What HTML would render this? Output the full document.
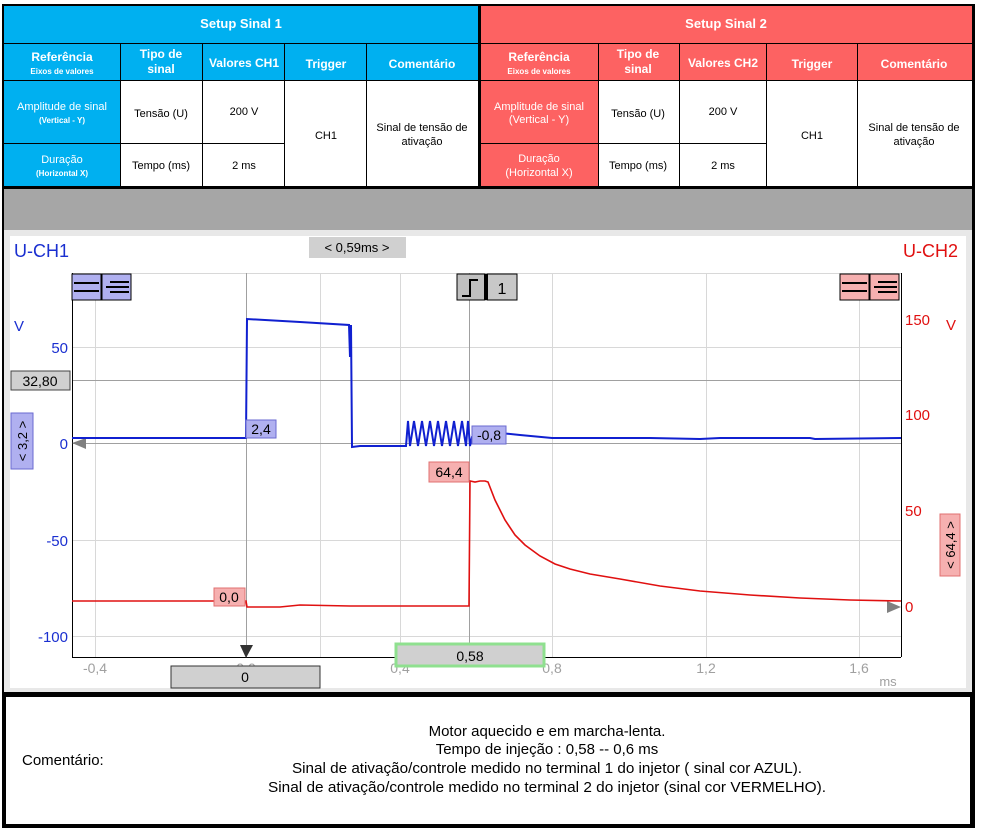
<!DOCTYPE html>
<html><head><meta charset="utf-8"><style>
html,body{margin:0;padding:0;background:#fff;}
svg{display:block;font-family:"Liberation Sans",sans-serif;}
</style></head><body>
<svg width="982" height="831" viewBox="0 0 982 831" xmlns="http://www.w3.org/2000/svg">
<rect x="0" y="0" width="982" height="831" fill="#fff"/>
<rect x="2" y="4" width="973" height="824" fill="#000"/>
<rect x="4" y="6" width="474" height="180" fill="#fff"/>
<rect x="4" y="6" width="474" height="37" fill="#00b0f0"/>
<rect x="4" y="44" width="474" height="36" fill="#00b0f0"/>
<rect x="4" y="81" width="116" height="105" fill="#00b0f0"/>
<g stroke="#000" stroke-width="1">
<line x1="4" y1="43.5" x2="478" y2="43.5"/><line x1="4" y1="80.5" x2="478" y2="80.5"/>
<line x1="4" y1="143.5" x2="285" y2="143.5"/>
<line x1="120.5" y1="43" x2="120.5" y2="186"/><line x1="202.5" y1="43" x2="202.5" y2="186"/>
<line x1="284.5" y1="43" x2="284.5" y2="186"/><line x1="366.5" y1="43" x2="366.5" y2="186"/>
</g>
<g fill="#fff" font-weight="bold" text-anchor="middle">
<text x="241" y="28" font-size="13">Setup Sinal 1</text>
<text x="62" y="61" font-size="12">Referência</text><text x="62" y="74" font-size="8">Eixos de valores</text>
<text x="161" y="58" font-size="12">Tipo de</text><text x="161" y="73" font-size="12">sinal</text>
<text x="244" y="67" font-size="12">Valores CH1</text>
<text x="326" y="68" font-size="12">Trigger</text>
<text x="422" y="68" font-size="12">Comentário</text>
</g>
<g fill="#fff" text-anchor="middle">
<text x="62" y="110" font-size="11">Amplitude de sinal</text><text x="62" y="123" font-size="8" font-weight="bold">(Vertical - Y)</text>
<text x="62" y="163" font-size="11">Duração</text><text x="62" y="176" font-size="8" font-weight="bold">(Horizontal X)</text>
</g>
<g fill="#000" text-anchor="middle" font-size="11">
<text x="161" y="117">Tensão (U)</text><text x="244" y="115">200 V</text>
<text x="161" y="169">Tempo (ms)</text><text x="244" y="169">2  ms</text>
<text x="326" y="139">CH1</text>
<text x="422" y="131">Sinal de tensão de</text><text x="422" y="145">ativação</text>
</g>
<rect x="481" y="6" width="491" height="180" fill="#fff"/>
<rect x="481" y="6" width="491" height="37" fill="#fd6262"/>
<rect x="481" y="44" width="491" height="36" fill="#fd6262"/>
<rect x="481" y="81" width="117" height="105" fill="#fd6262"/>
<g stroke="#000" stroke-width="1">
<line x1="481" y1="43.5" x2="972" y2="43.5"/><line x1="481" y1="80.5" x2="972" y2="80.5"/>
<line x1="481" y1="143.5" x2="766" y2="143.5"/>
<line x1="598.5" y1="43" x2="598.5" y2="186"/><line x1="679.5" y1="43" x2="679.5" y2="186"/>
<line x1="766.5" y1="43" x2="766.5" y2="186"/><line x1="857.5" y1="43" x2="857.5" y2="186"/>
</g>
<g fill="#fff" font-weight="bold" text-anchor="middle">
<text x="726" y="28" font-size="13">Setup Sinal 2</text>
<text x="539" y="61" font-size="12">Referência</text><text x="539" y="74" font-size="8">Eixos de valores</text>
<text x="638" y="58" font-size="12">Tipo de</text><text x="638" y="73" font-size="12">sinal</text>
<text x="723" y="67" font-size="12">Valores CH2</text>
<text x="812" y="68" font-size="12">Trigger</text>
<text x="914" y="68" font-size="12">Comentário</text>
</g>
<g fill="#fff" text-anchor="middle" font-size="11">
<text x="539" y="110">Amplitude de sinal</text><text x="539" y="123">(Vertical - Y)</text>
<text x="539" y="162">Duração</text><text x="539" y="176">(Horizontal X)</text>
</g>
<g fill="#000" text-anchor="middle" font-size="11">
<text x="638" y="117">Tensão (U)</text><text x="723" y="115">200 V</text>
<text x="638" y="169">Tempo (ms)</text><text x="723" y="169">2 ms</text>
<text x="812" y="139">CH1</text>
<text x="914" y="131">Sinal de tensão de</text><text x="914" y="145">ativação</text>
</g>
<rect x="4" y="189" width="968" height="41" fill="#a6a6a6"/>
<rect x="4" y="230" width="968" height="462" fill="#e8e8e8"/>
<rect x="10" y="236" width="956" height="452" fill="#fff"/>
<g stroke="#d8d8d8" stroke-width="1">
<line x1="72" y1="273.5" x2="901" y2="273.5"/>
<line x1="72" y1="347.5" x2="901" y2="347.5"/>
<line x1="72" y1="540.5" x2="901" y2="540.5"/>
<line x1="72" y1="636.5" x2="901" y2="636.5"/>
<line x1="95.5" y1="273" x2="95.5" y2="657"/>
<line x1="400.5" y1="273" x2="400.5" y2="657"/>
<line x1="552.5" y1="273" x2="552.5" y2="657"/>
<line x1="706.5" y1="273" x2="706.5" y2="657"/>
<line x1="859.5" y1="273" x2="859.5" y2="657"/>
<line x1="320.5" y1="273" x2="320.5" y2="657"/>
</g>
<g stroke="#a0a0a0" stroke-width="1">
<line x1="72" y1="380.5" x2="901" y2="380.5"/>
<line x1="72" y1="443.5" x2="901" y2="443.5"/>
<line x1="246.5" y1="273" x2="246.5" y2="657"/>
<line x1="469.5" y1="273" x2="469.5" y2="657"/>
</g>
<line x1="72.5" y1="273" x2="72.5" y2="657" stroke="#000"/>
<line x1="901.5" y1="273" x2="901.5" y2="657" stroke="#000"/>
<line x1="72" y1="657.5" x2="901" y2="657.5" stroke="#000"/>
<text x="14" y="257" font-size="18" fill="#1a2fd0">U-CH1</text>
<text x="958" y="257" font-size="18" fill="#e01010" text-anchor="end">U-CH2</text>
<rect x="309" y="237" width="97" height="21" fill="#d0d0d0"/>
<text x="357" y="252" font-size="13" text-anchor="middle">&lt; 0,59ms &gt;</text>
<rect x="72" y="274" width="29" height="26" fill="#b0b0f0" stroke="#000"/>
<rect x="102" y="274" width="29" height="26" fill="#b0b0f0" stroke="#000"/>
<g stroke="#000" stroke-width="2"><line x1="74" y1="283" x2="99" y2="283"/><line x1="74" y1="291" x2="99" y2="291"/>
<line x1="110" y1="282" x2="129" y2="282"/><line x1="110" y1="292" x2="129" y2="292"/><line x1="106" y1="287" x2="129" y2="287"/></g>
<rect x="840" y="274" width="29" height="26" fill="#f6b0b0" stroke="#000"/>
<rect x="870" y="274" width="29" height="26" fill="#f6b0b0" stroke="#000"/>
<g stroke="#000" stroke-width="2"><line x1="842" y1="283" x2="867" y2="283"/><line x1="842" y1="291" x2="867" y2="291"/>
<line x1="878" y1="282" x2="897" y2="282"/><line x1="878" y1="292" x2="897" y2="292"/><line x1="874" y1="287" x2="897" y2="287"/></g>
<rect x="457" y="274" width="28" height="26" fill="#c0c0c0" stroke="#000"/>
<rect x="487" y="274" width="30" height="26" fill="#c8c8c8" stroke="#000"/>
<rect x="484" y="274" width="4" height="26" fill="#000"/>
<path d="M462 296 H470 V280 H478" fill="none" stroke="#000" stroke-width="2"/>
<text x="502" y="294" font-size="16" text-anchor="middle">1</text>
<g font-size="15" fill="#1a2fd0" text-anchor="end">
<text x="24" y="331">V</text>
<text x="68" y="353">50</text>
<text x="68" y="449">0</text>
<text x="68" y="546">-50</text>
<text x="68" y="642">-100</text>
</g>
<g font-size="15" fill="#e01010">
<text x="905" y="325">150</text><text x="946" y="330">V</text>
<text x="905" y="420">100</text>
<text x="905" y="516">50</text>
<text x="905" y="612">0</text>
</g>
<g font-size="14" fill="#a0a0a0" text-anchor="middle">
<text x="95" y="673">-0,4</text><text x="246" y="673">0,0</text><text x="400" y="673">0,4</text>
<text x="552" y="673">0,8</text><text x="706" y="673">1,2</text><text x="859" y="673">1,6</text>
<text x="888" y="686" font-size="13">ms</text>
</g>
<rect x="11" y="371" width="59" height="19" fill="#d0d0d0" stroke="#444"/>
<text x="40" y="386" font-size="14" text-anchor="middle">32,80</text>
<rect x="11" y="413" width="22" height="56" fill="#b0b0f0" stroke="#6a6ad0"/>
<text transform="translate(27,441) rotate(-90)" font-size="13" text-anchor="middle">&lt; 3,2 &gt;</text>
<rect x="940" y="514" width="20" height="62" fill="#f6b0b0" stroke="#e07070"/>
<text transform="translate(955,545) rotate(-90)" font-size="13" text-anchor="middle">&lt; 64,4 &gt;</text>
<path d="M72 443 L86 438 L86 449 Z" fill="#808080"/>
<path d="M901 607 L887 601 L887 613 Z" fill="#808080"/>
<path d="M240 645 L253 645 L246 658 Z" fill="#333"/>
<polyline fill="none" stroke="#e01010" stroke-width="1.6" points="72,601 246,601 247,607 280,607 300,605 350,606 400,606 440,606 469,606 470,481 475,482 480,481 485,481 488,482 495,500 505,520 515,535 525,545 540,556 555,564 570,569 590,574 620,579 660,586 700,591 750,595 800,598 850,600 901,601"/>
<polyline fill="none" stroke="#1020d0" stroke-width="2" points="72,438 246,438 247,319 300,322 349,325 350,357 351,325 352,447 360,446 406,446 408,421 410,446 414,421 418,446 422,421 426,446 430,421 434,446 438,421 442,446 446,421 450,446 454,421 458,446 462,421 466,446 468,421 470,446 472,437 500,433 520,435 552,438 650,438 700,439 720,438 810,438 815,439 901,438"/>
<rect x="246" y="420" width="30" height="18" fill="#b0b0f0" stroke="#6a6ad0"/>
<text x="261" y="434" font-size="14" text-anchor="middle">2,4</text>
<rect x="472" y="426" width="34" height="18" fill="#b0b0f0" stroke="#6a6ad0"/>
<text x="489" y="440" font-size="14" text-anchor="middle">-0,8</text>
<rect x="429" y="462" width="40" height="20" fill="#f6b0b0" stroke="#e07070"/>
<text x="449" y="477" font-size="14" text-anchor="middle">64,4</text>
<rect x="214" y="588" width="31" height="18" fill="#f6b0b0" stroke="#e07070"/>
<text x="229" y="602" font-size="14" text-anchor="middle">0,0</text>
<rect x="171" y="666" width="149" height="22" fill="#d0d0d0" stroke="#333"/>
<text x="245" y="682" font-size="14" text-anchor="middle">0</text>
<rect x="396" y="644" width="148" height="22" fill="#d0d0d0" stroke="#8fe08f" stroke-width="3"/>
<text x="470" y="661" font-size="14" text-anchor="middle">0,58</text>
<rect x="6" y="697" width="964" height="127" fill="#fff"/>
<text x="22" y="765" font-size="15">Comentário:</text>
<g font-size="15" text-anchor="middle" fill="#000">
<text x="547" y="736">Motor aquecido e em marcha-lenta.</text>
<text x="547" y="754">Tempo de injeção : 0,58 -- 0,6 ms</text>
<text x="547" y="773" textLength="510" lengthAdjust="spacingAndGlyphs">Sinal de ativação/controle medido no terminal 1 do injetor ( sinal cor AZUL).</text>
<text x="547" y="792" textLength="558" lengthAdjust="spacingAndGlyphs">Sinal de ativação/controle medido no terminal 2 do injetor (sinal cor VERMELHO).</text>
</g>
</svg>
</body></html>
